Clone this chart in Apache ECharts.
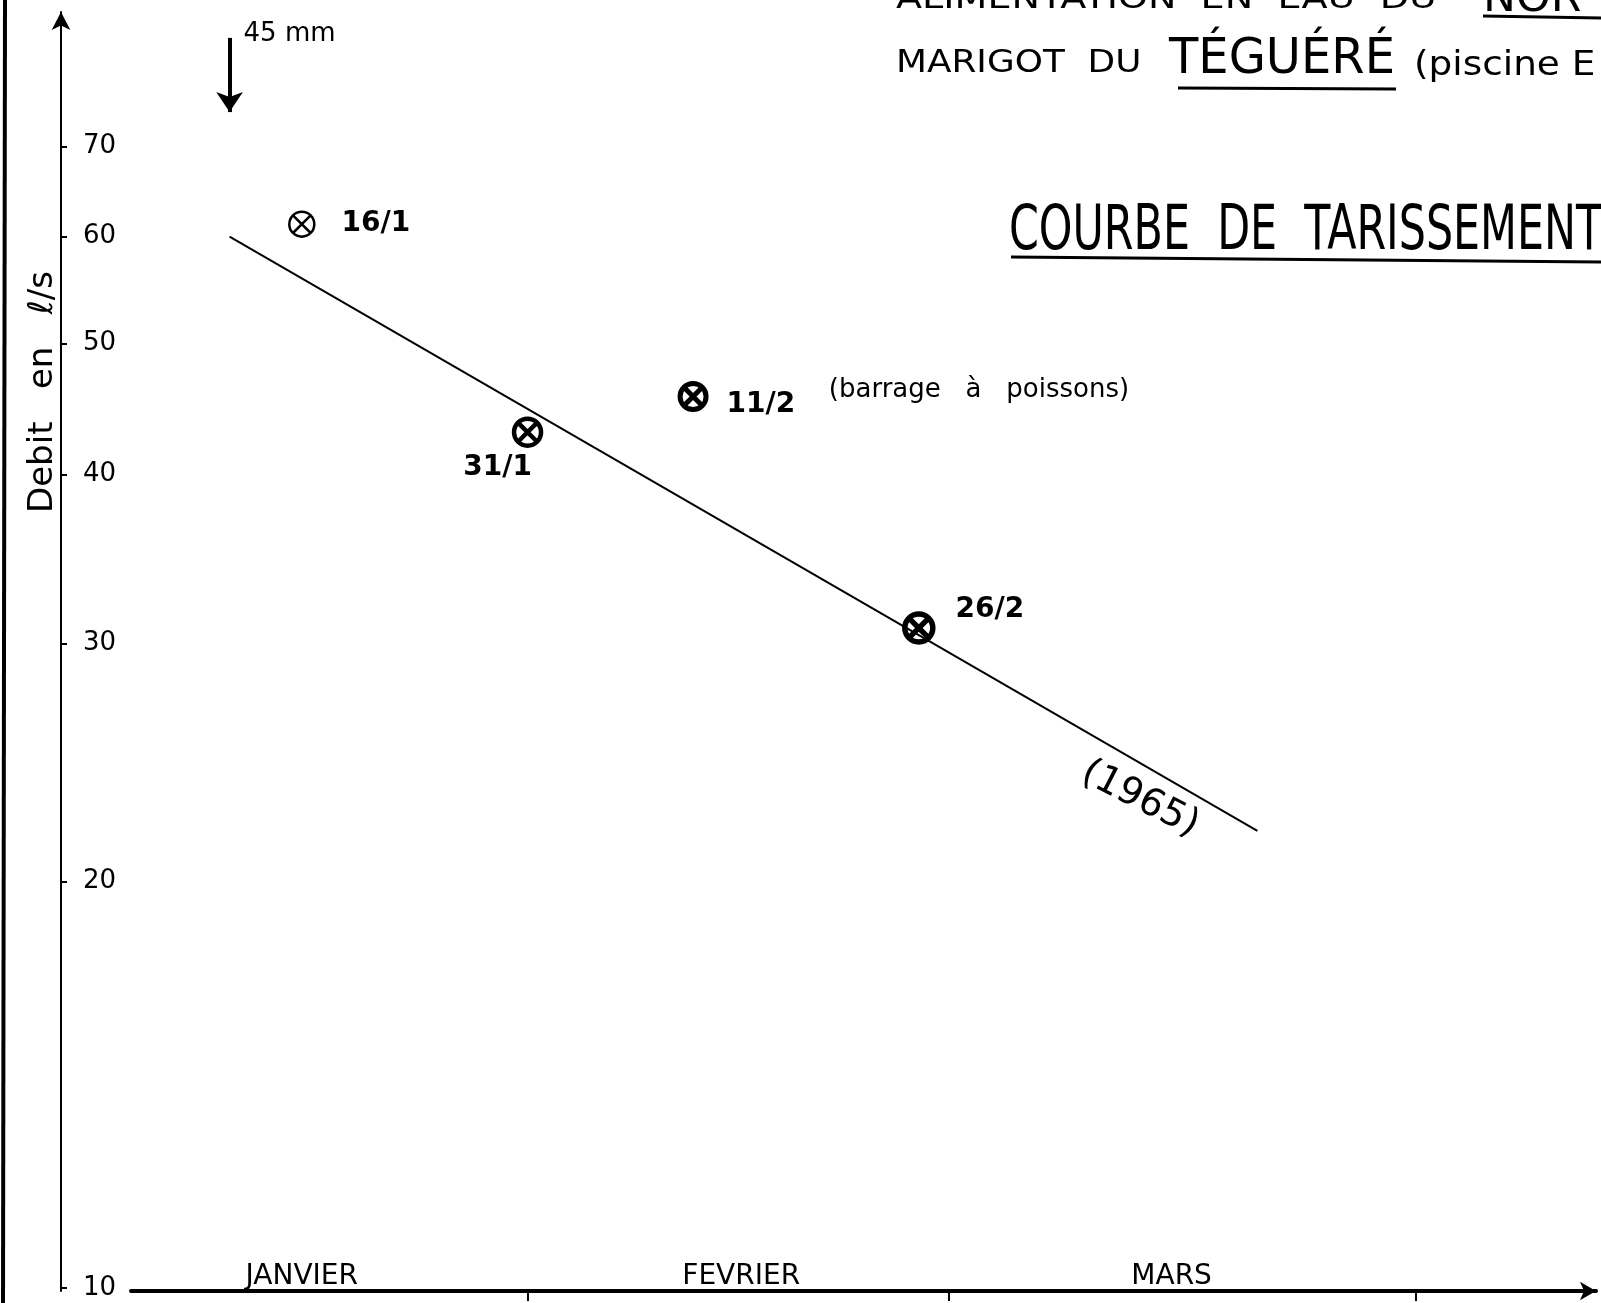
<!DOCTYPE html>
<html>
<head>
<meta charset="utf-8">
<title>Courbe de tarissement</title>
<style>
  html, body { margin: 0; padding: 0; background: #fff; overflow: hidden; }
  #chart { width: 1601px; height: 1303px; }
</style>
<script src="https://cdn.jsdelivr.net/npm/echarts@6/dist/echarts.min.js"></script>
</head>
<body>
<div id="chart"></div>
<script>
// x = day of the year 1965, y = debit in l/s (log scale)
const yTicks = [10, 20, 30, 40, 50, 60, 70];
const monthEnds = [31, 59, 90];
const monthNames = ['JANVIER', 'FEVRIER', 'MARS'];
const monthDays = [16, 45.2, 73.8];
const monthLevels = [10.2, 10.2, 10.2];

const gaugingDays = [16, 31, 42, 57];
const gaugingFlows = [61.3, 43, 45.7, 30.8];
const gaugingLabels = ['16/1', '31/1', '11/2', '26/2'];

const curveDays = [11.2, 79.5];
const curveFlows = [60, 21.8];

const rainDay = 11.2;
const rainFlows = [84.2, 74.2];
const rainLabel = '45 mm';

const noteTexts = ['(barrage   à   poissons)', '(1965)'];
const noteDays = [61, 71.7];
const noteFlows = [46.2, 23];

const font = '"DejaVu Sans"';
const ink = '#000';

const chart = echarts.init(document.getElementById('chart'));

// page furniture: title block of the scanned sheet
const texts = [
  { x: 896, y: 0, text: 'ALIMENTATION  EN  EAU  DU', size: 30, sx: 1.27 },
  { x: 1483, y: 0, text: 'NOR', size: 42, sx: 1.05 },
  { x: 896, y: 64, text: 'MARIGOT  DU', size: 32, sx: 1.12 },
  { x: 1169, y: 60, text: 'TÉGUÉRÉ', size: 50, sx: 0.96 },
  { x: 1414, y: 66, text: '(piscine E', size: 34, sx: 1.1 },
  { x: 1009, y: 233, text: 'COURBE  DE  TARISSEMENT', size: 62, sx: 0.69 },
].map(t => ({
  type: 'text',
  x: t.x,
  y: t.y,
  scaleX: t.sx,
  silent: true,
  style: { text: t.text, font: t.size + 'px ' + font, fill: ink, textVerticalAlign: 'middle' },
}));

const rules = [
  { x1: 5, y1: 0, x2: 3, y2: 1303, w: 4 },
  { x1: 1483, y1: 16, x2: 1601, y2: 18, w: 3 },
  { x1: 1178, y1: 88, x2: 1396, y2: 89, w: 3 },
  { x1: 1011, y1: 257, x2: 1601, y2: 262, w: 3 },
].map(l => ({
  type: 'line',
  silent: true,
  shape: { x1: l.x1, y1: l.y1, x2: l.x2, y2: l.y2 },
  style: { stroke: ink, lineWidth: l.w },
}));

chart.setOption({
  backgroundColor: '#fff',
  animation: false,
  grid: { left: 131, right: 5, top: 12, bottom: 12 },
  xAxis: {
    type: 'value',
    min: 4.65,
    max: 102,
    splitLine: { show: false },
    axisLine: { onZero: false, symbol: ['none', 'arrow'], symbolSize: [14, 16], lineStyle: { color: ink, width: 4 } },
    axisTick: { show: true, length: 10, customValues: monthEnds, lineStyle: { color: ink, width: 2 } },
    axisLabel: { show: false },
  },
  yAxis: {
    type: 'log',
    logBase: 10,
    min: 9.95,
    max: 88,
    offset: 70,
    splitLine: { show: false },
    minorTick: { show: false },
    axisLine: { onZero: false, symbol: ['none', 'arrow'], symbolSize: [14, 18], lineStyle: { color: ink, width: 2 } },
    axisTick: { show: true, inside: true, length: 6, customValues: yTicks, lineStyle: { color: ink, width: 2 } },
    axisLabel: {
      inside: true,
      customValues: yTicks,
      margin: 22,
      showMinLabel: true,
      showMaxLabel: true,
      fontFamily: font,
      fontSize: 26,
      color: ink,
    },
  },
  graphic: [
    ...rules,
    ...texts,
    {
      type: 'text',
      x: 43,
      y: 392,
      rotation: Math.PI / 2,
      silent: true,
      style: { text: 'Debit   en   ℓ/s', font: '34px ' + font, fill: ink, textAlign: 'center', textVerticalAlign: 'middle' },
    },
  ],
  series: [
    {
      name: 'courbe',
      type: 'line',
      data: curveDays.map((d, i) => [d, curveFlows[i]]),
      symbol: 'none',
      z: 2,
      lineStyle: { color: ink, width: 2 },
    },
    {
      name: 'jaugeages',
      type: 'scatter',
      data: gaugingDays.map((d, i) => ({
        value: [d, gaugingFlows[i]],
        symbolSize: [25, 27, 26, 28][i],
        itemStyle: { borderWidth: [2.5, 4.5, 5, 5.5][i] },
        label: {
          formatter: gaugingLabels[i],
          position: ['right', 'bottom', 'right', 'right'][i],
          distance: [26, 6, 18, 14][i],
          offset: [[0, 0], [-30, 0], [0, 8], [6, -18]][i],
        },
      })),
      symbol: 'path://M12 0A12 12 0 1 1 12 24A12 12 0 1 1 12 0ZM3.5 3.5L20.5 20.5M20.5 3.5L3.5 20.5',
      z: 3,
      itemStyle: { color: 'transparent', borderColor: ink, opacity: 1 },
      label: { show: true, fontFamily: font, fontSize: 28, fontWeight: 'bold', color: ink },
    },
    {
      name: 'pluie',
      type: 'scatter',
      data: [[rainDay, rainFlows[0]]],
      symbolSize: 0,
      itemStyle: { opacity: 1 },
      label: {
        show: true,
        position: 'right',
        distance: 14,
        offset: [0, -4],
        formatter: rainLabel,
        fontFamily: font,
        fontSize: 26,
        color: ink,
      },
      markLine: {
        silent: true,
        symbol: ['none', 'arrow'],
        symbolSize: 20,
        label: { show: false },
        lineStyle: { color: ink, width: 4, type: 'solid' },
        data: [[{ coord: [rainDay, rainFlows[0]] }, { coord: [rainDay, rainFlows[1]] }]],
      },
    },
    {
      name: 'notes',
      type: 'scatter',
      data: noteDays.map((d, i) => ({
        value: [d, noteFlows[i]],
        label: { formatter: noteTexts[i], rotate: [0, -27][i], fontSize: [26, 38][i] },
      })),
      symbolSize: 0,
      itemStyle: { opacity: 1 },
      label: { show: true, position: 'inside', fontFamily: font, color: ink },
    },
    {
      name: 'mois',
      type: 'scatter',
      data: monthDays.map((d, i) => ({ value: [d, monthLevels[i]], label: { formatter: monthNames[i] } })),
      symbolSize: 0,
      itemStyle: { opacity: 1 },
      label: { show: true, position: 'inside', fontFamily: font, fontSize: 28, color: ink },
    },
  ],
});
</script>
</body>
</html>
